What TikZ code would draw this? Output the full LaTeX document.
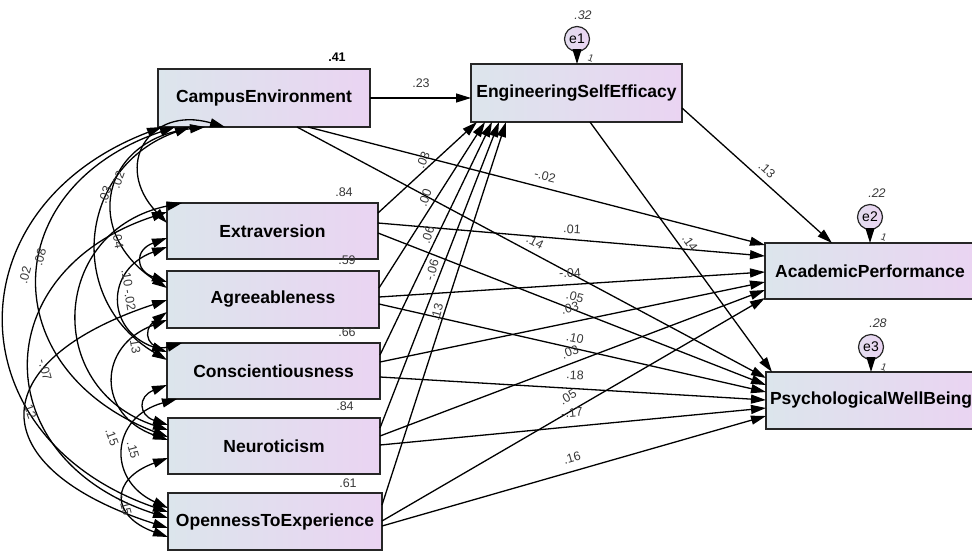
\documentclass[tikz,border=0pt]{standalone}
\usepackage{fontspec}
\setmainfont{Liberation Sans}
\usetikzlibrary{arrows.meta}
\definecolor{boxleft}{HTML}{DCE5EC}
\definecolor{boxright}{HTML}{EAD4F2}
\definecolor{coefgray}{HTML}{383838}
\tikzset{
  var/.style={draw=black!85, line width=1.3pt, left color=boxleft, right color=boxright,
    anchor=north west, inner sep=0pt, outer sep=0pt,
    font=\fontsize{17.5}{20}\selectfont\bfseries},
  err/.style={circle, draw=black!85, line width=1.2pt, left color=boxleft!50!boxright,
    right color=boxright, minimum size=25pt, inner sep=0pt, outer sep=0pt,
    font=\fontsize{14}{16}\selectfont},
  tip/.tip={Triangle[length=15pt,width=9pt]},
  reg/.style={line width=1.3pt, -tip},
  cov/.style={line width=1.3pt, tip-tip},
  coef/.style={font=\fontsize{12.5}{14}\selectfont, text=coefgray, inner sep=0.5pt},
  varlbl/.style={coef, font=\fontsize{12.5}{14}\selectfont\itshape},
  unit/.style={coef, font=\fontsize{10}{12}\selectfont, rotate=-20},
}
\begin{document}
\begin{tikzpicture}[x=1pt,y=1pt]
\useasboundingbox (0,0) rectangle (972,-550);
\clip (0,0) rectangle (972,-550);

% observed variables
\node[var, minimum width=212pt, minimum height=58pt] (CE)  at (158,-69)  {CampusEnvironment};
\node[var, minimum width=211pt, minimum height=56pt] (EX)  at (167,-203) {Extraversion};
\node[var, minimum width=212pt, minimum height=57pt] (AG)  at (167,-271) {Agreeableness};
\node[var, minimum width=213pt, minimum height=56pt] (CO)  at (167,-343) {Conscientiousness};
\node[var, minimum width=212pt, minimum height=56pt] (NE)  at (168,-418) {Neuroticism};
\node[var, minimum width=214pt, minimum height=57pt] (OP)  at (168,-493) {OpennessToExperience};
\node[var, minimum width=211pt, minimum height=58pt] (ESE) at (471,-64)  {EngineeringSelfEfficacy};
\node[var, minimum width=210pt, minimum height=56pt] (AP)  at (765,-243) {AcademicPerformance};
\node[var, minimum width=210pt, minimum height=57pt] (PWB) at (766,-372) {PsychologicalWellBeing};

% error terms
\node[err] (e1) at (577,-39)  {e1};
\node[err] (e2) at (870,-217) {e2};
\node[err] (e3) at (871,-347) {e3};
\draw[reg] (e1.south) -- (e1.south |- ESE.north);
\draw[reg] (e2.south) -- (e2.south |- AP.north);
\draw[reg] (e3.south) -- (e3.south |- PWB.north);

% paths into EngineeringSelfEfficacy
\draw[reg] (CE.east) -- (CE.east -| ESE.west);
\draw[reg] ([yshift=-10pt]EX.north east) -- ([xshift=6pt]ESE.south west);
\draw[reg] ([yshift=-17pt]AG.north east) -- ([xshift=14pt]ESE.south west);
\draw[reg] ([yshift=-12pt]CO.north east) -- ([xshift=21pt]ESE.south west);
\draw[reg] ([yshift=-10pt]NE.north east) -- ([xshift=28pt]ESE.south west);
\draw[reg] ([yshift=-12pt]OP.north east) -- ([xshift=35pt]ESE.south west);

% paths into AcademicPerformance
\draw[reg] ([yshift=-44pt]ESE.north east) -- ([xshift=67pt]AP.north west);
\draw[reg] ([xshift=150pt]CE.south west) -- ([yshift=-2pt]AP.north west);
\draw[reg] ([yshift=-20pt]EX.north east) -- ([yshift=-13pt]AP.north west);
\draw[reg] ([yshift=-26pt]AG.north east) -- ([yshift=-29pt]AP.north west);
\draw[reg] ([yshift=-19pt]CO.north east) -- ([yshift=-39pt]AP.north west);
\draw[reg] ([yshift=-18pt]NE.north east) -- ([yshift=-47pt]AP.north west);
\draw[reg] ([yshift=-28pt]OP.north east) -- ([yshift=-55pt]AP.north west);

% paths into PsychologicalWellBeing
\draw[reg] ([xshift=119pt]ESE.south west) -- ([xshift=6pt]PWB.north west);
\draw[reg] ([xshift=139pt]CE.south west) -- ([yshift=-6pt]PWB.north west);
\draw[reg] ([yshift=-30pt]EX.north east) -- ([yshift=-13pt]PWB.north west);
\draw[reg] ([yshift=-33pt]AG.north east) -- ([yshift=-20pt]PWB.north west);
\draw[reg] ([yshift=-34pt]CO.north east) -- ([yshift=-28pt]PWB.north west);
\draw[reg] ([yshift=-27pt]NE.north east) -- ([yshift=-36pt]PWB.north west);
\draw[reg] ([yshift=-33pt]OP.north east) -- ([yshift=-44pt]PWB.north west);

% covariances among the exogenous variables
\draw[cov] ([xshift=67pt]CE.south west) to[bend right=75, looseness=1.8] ([yshift=-20pt]EX.north west);
\draw[cov] ([xshift=47pt]CE.south west) to[bend right=70, looseness=1.6] ([yshift=-17pt]AG.north west);
\draw[cov] ([xshift=32pt]CE.south west) to[bend right=65, looseness=1.3] ([yshift=-17pt]CO.north west);
\draw[cov] ([xshift=17pt]CE.south west) to[bend right=70, looseness=1.55] ([yshift=-19pt]NE.north west);
\draw[cov] ([xshift=4pt]CE.south west)  to[bend right=70, looseness=1.5] ([yshift=-19pt]OP.north west);
\draw[cov] ([yshift=-35pt]EX.north west) to[bend right=70, looseness=2.0] ([yshift=-11pt]AG.north west);
\draw[cov] ([yshift=-44pt]EX.north west) to[bend right=70, looseness=1.6] ([yshift=-9pt]CO.north west);
\draw[cov] ([xshift=15pt]EX.north west)  to[bend right=75, looseness=1.5] ([yshift=-12pt]NE.north west);
\draw[cov] ([yshift=-9pt]EX.north west)  to[bend right=72, looseness=1.6] ([yshift=-25pt]OP.north west);
\draw[cov] ([yshift=-41pt]AG.north west) to[bend right=80, looseness=2.5] ([xshift=15pt]CO.north west);
\draw[cov] ([yshift=-49pt]AG.north west) to[bend right=70, looseness=1.6] ([yshift=-22pt]NE.north west);
\draw[cov] ([yshift=-29pt]AG.north west) to[bend right=72, looseness=2.2] ([yshift=-35pt]OP.north west);
\draw[cov] ([yshift=-42pt]CO.north west) to[bend right=70, looseness=2.0] ([yshift=-7pt]NE.north west);
\draw[cov] ([xshift=10pt]CO.south west)  to[bend right=70, looseness=1.6] ([yshift=-15pt]OP.north west);
\draw[cov] ([yshift=-40pt]NE.north west) to[bend right=70, looseness=2.0] ([yshift=-44pt]OP.north west);

% variances and squared multiple correlations
\node[coef, font=\fontsize{12.5}{14}\selectfont\bfseries, text=black] (vCE) at (337,-57) {.41};
\node[coef] (vEX) at (344,-192) {.84};
\node[coef] (vAG) at (347,-260) {.59};
\node[coef] (vCO) at (347,-332) {.66};
\node[coef] (vNE) at (345,-406) {.84};
\node[coef] (vOP) at (348,-483) {.61};
\node[varlbl] (v1) at (583,-15)  {.32};
\node[varlbl] (v2) at (877,-193) {.22};
\node[varlbl] (v3) at (878,-323) {.28};
\node[unit] (w1) at (591,-58)  {1};
\node[unit] (w2) at (884,-237) {1};
\node[unit] (w3) at (884,-367) {1};

% regression weights
\node[coef] at (421,-83) {.23};
\node[coef, rotate=68] at (423,-160) {.03};
\node[coef, rotate=70] at (425,-198) {.00};
\node[coef, rotate=72] at (428,-235) {.06};
\node[coef, rotate=74] at (432,-270) {-.06};
\node[coef, rotate=75] at (437,-312) {.13};
\node[coef, rotate=-42] at (767,-170) {.13};
\node[coef, rotate=-55] at (690,-243) {.14};
\node[coef, rotate=-14] at (545,-176) {-.02};
\node[coef, rotate=-28] at (535,-242) {.14};
\node[coef, rotate=-3] at (572,-229) {.01};
\node[coef, rotate=3] at (570,-273) {-.04};
\node[coef, rotate=-15] at (575,-297) {.05};
\node[coef, rotate=12] at (570,-308) {.03};
\node[coef, rotate=-12] at (575,-338) {.10};
\node[coef, rotate=20] at (570,-352) {.03};
\node[coef, rotate=-3] at (575,-375) {.18};
\node[coef, rotate=30] at (568,-397) {.05};
\node[coef, rotate=5] at (572,-413) {-.17};
\node[coef, rotate=16] at (572,-458) {.16};

% covariance estimates
\node[coef, rotate=70] at (118,-180) {.02};
\node[coef, rotate=70] at (105,-195) {.03};
\node[coef, rotate=-80] at (118,-240) {.04};
\node[coef, rotate=75] at (40,-257) {.08};
\node[coef, rotate=75] at (25,-275) {.02};
\node[coef, rotate=-80] at (127,-278) {.10};
\node[coef, rotate=-80] at (130,-300) {-.02};
\node[coef, rotate=-80] at (135,-345) {.13};
\node[coef, rotate=-75] at (45,-370) {-.07};
\node[coef, rotate=-70] at (30,-410) {.12};
\node[coef, rotate=-70] at (112,-437) {.15};
\node[coef, rotate=-75] at (133,-450) {.15};
\node[coef, rotate=-75] at (125,-505) {-.15};
\end{tikzpicture}
\end{document}
